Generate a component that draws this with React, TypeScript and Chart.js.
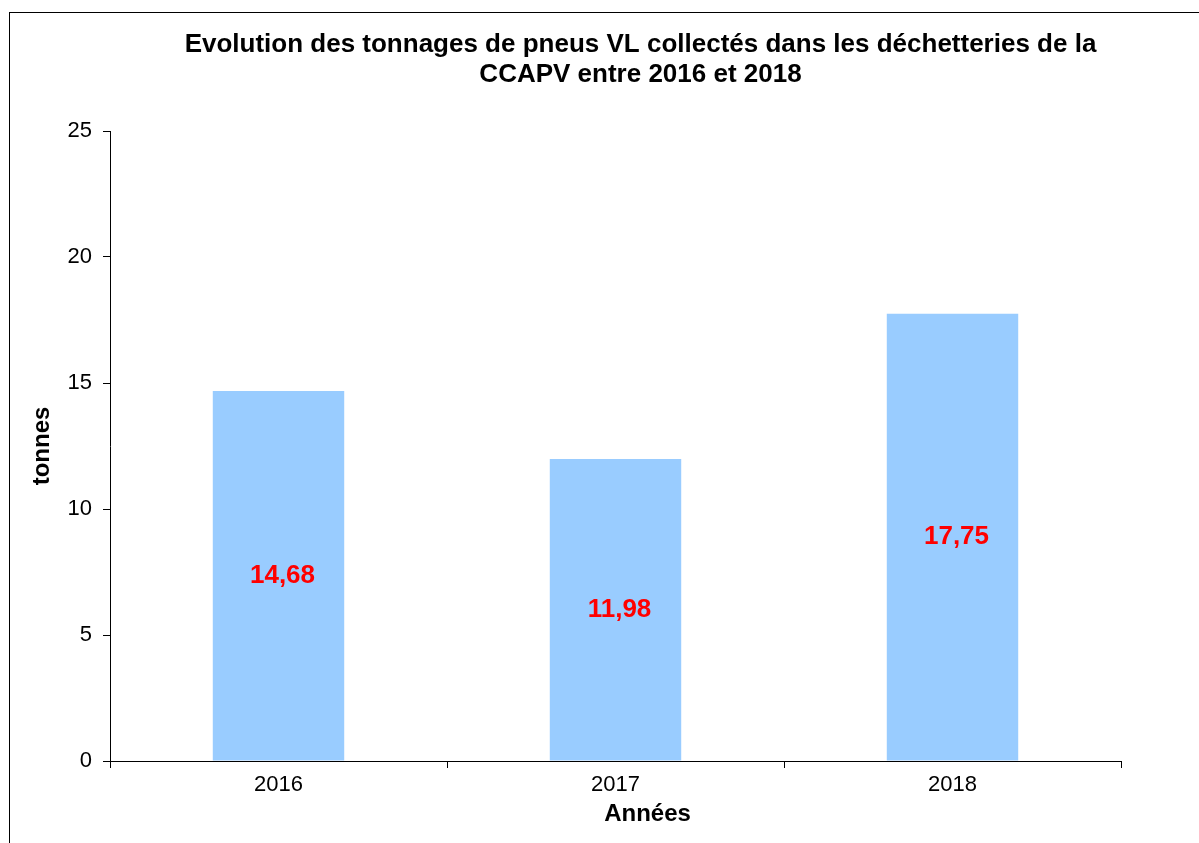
import React, { useEffect, useRef } from "react";
import { Chart, registerables } from "chart.js";

Chart.register(...registerables);

const categories = ["2016", "2017", "2018"];
const tonnages = [14.68, 11.98, 17.75];
const valueLabels = ["14,68", "11,98", "17,75"];
const yTicks = [0, 5, 10, 15, 20, 25];

const titleLines = [
  "Evolution des tonnages de pneus VL collectés dans les déchetteries de la",
  "CCAPV entre 2016 et 2018",
];
const xTitle = "Années";
const yTitle = "tonnes";

const FONT = "'Liberation Sans', Arial, Helvetica, sans-serif";

const customText = {
  id: "customText",
  afterDraw(chart: any) {
    const ctx = chart.ctx;
    const area = chart.chartArea;
    ctx.save();
    // bar value labels
    const meta = chart.getDatasetMeta(0);
    ctx.fillStyle = "#FF0000";
    ctx.font = `bold 26px ${FONT}`;
    ctx.textAlign = "center";
    ctx.textBaseline = "middle";
    meta.data.forEach((el: any, i: number) => {
      const { x, y, base } = el.getProps(["x", "y", "base"], true);
      ctx.fillText(valueLabels[i], x + 4, (y + base) / 2);
    });
    // main title
    ctx.fillStyle = "#000";
    ctx.font = `bold 26px ${FONT}`;
    const cx = (area.left + area.right) / 2 + 25;
    ctx.fillText(titleLines[0], cx, 32);
    ctx.fillText(titleLines[1], cx, 62);
    // x title
    ctx.font = `bold 24px ${FONT}`;
    ctx.fillText(xTitle, (area.left + area.right) / 2 + 32, 801);
    ctx.restore();
  },
};

export default function App() {
  const ref = useRef<HTMLCanvasElement>(null);
  useEffect(() => {
    if (!ref.current) return;
    const chart = new Chart(ref.current, {
      type: "bar",
      data: {
        labels: categories,
        datasets: [
          {
            data: tonnages,
            backgroundColor: "#99CCFF",
            borderWidth: 0,
            categoryPercentage: 1,
            barPercentage: 0.39,
          },
        ],
      },
      options: {
        responsive: false,
        animation: false,
        devicePixelRatio: 1,
        layout: { padding: { top: 118, right: 78, left: 0, bottom: 0 } },
        plugins: {
          legend: { display: false },
          title: { display: false },
          tooltip: { enabled: false },
        },
        scales: {
          x: {
            offset: true,
            grid: {
              offset: true,
              drawOnChartArea: false,
              drawTicks: true,
              tickLength: 7,
              color: "#000",
            },
            border: { display: true, color: "#000", width: 1 },
            ticks: {
              color: "#000",
              padding: 4,
              font: { family: FONT, size: 22 },
            },
            afterFit: (scale: any) => {
              scale.height = 82;
            },
          },
          y: {
            min: 0,
            max: 25,
            afterBuildTicks: (scale: any) => {
              scale.ticks = yTicks.map((v) => ({ value: v }));
            },
            grid: {
              drawOnChartArea: false,
              drawTicks: true,
              tickLength: 7,
              color: "#000",
            },
            border: { display: true, color: "#000", width: 1 },
            ticks: {
              color: "#000",
              padding: 11,
              font: { family: FONT, size: 22 },
            },
            title: {
              display: true,
              text: yTitle,
              color: "#000",
              font: { family: FONT, size: 24, weight: "bold" },
              padding: { top: 18, bottom: 0 },
            },
            afterFit: (scale: any) => {
              scale.width = 100;
            },
          },
        },
      },
      plugins: [customText],
    });
    return () => chart.destroy();
  }, []);

  return (
    <div
      style={{
        position: "absolute",
        left: 9,
        top: 12,
        width: 1190,
        height: 831,
        borderTop: "1px solid #000",
        borderLeft: "1px solid #000",
        background: "#fff",
        overflow: "hidden",
      }}
    >
      <canvas ref={ref} width={1189} height={830} style={{ display: "block" }} />
    </div>
  );
}
